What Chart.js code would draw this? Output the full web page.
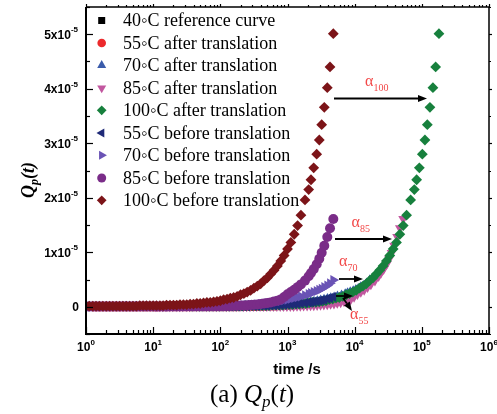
<!DOCTYPE html>
<html><head><meta charset="utf-8">
<script src="https://cdn.jsdelivr.net/npm/chart.js@4.4.0/dist/chart.umd.min.js"></script>
<style>html,body{margin:0;padding:0;background:#fff;}canvas{display:block;}</style>
</head><body>
<canvas id="c" width="497" height="414"></canvas>
<script>
// measurement times (s), before translation
const times = [1,1.12,1.26,1.41,1.58,1.78,2,2.24,2.51,2.82,3.16,3.55,3.98,4.47,5.01,5.62,6.31,7.08,7.94,8.91,
 10,11.2,12.6,14.1,15.8,17.8,20,22.4,25.1,28.2,31.6,35.5,39.8,44.7,50.1,56.2,63.1,70.8,79.4,89.1,
 100,112,126,141,158,178,200,224,251,282,316,355,398,447,501,562,631,708,794,891,
 1000,1122,1259,1413,1585,1822,2067,2238,2455,2720,2974,3228,3530,3912,4293,4808];
// Qp(t) values, in units of 1e-5
const q40 = [0.002,0.002,0.002,0.002,0.002,0.002,0.002,0.002,0.002,0.002,0.002,0.002,0.002,0.002,0.002,0.002,0.002,0.002,0.002,0.002,
 0.003,0.003,0.003,0.003,0.003,0.003,0.003,0.003,0.003,0.003,0.003,0.003,0.003,0.003,0.003,0.003,0.003,0.003,0.003,0.003,
 0.004,0.004,0.005,0.005,0.005,0.006,0.006,0.007,0.008,0.008,0.009,0.010,0.011,0.013,0.014,0.016,0.018,0.020,0.022,0.025,
 0.027,0.030,0.034,0.038,0.042,0.047,0.053,0.057,0.062,0.068,0.074,0.080,0.088,0.097,0.106,0.12];
const q55 = [0.003,0.003,0.003,0.003,0.003,0.003,0.003,0.003,0.003,0.003,0.003,0.003,0.003,0.003,0.003,0.003,0.003,0.003,0.003,0.003,
 0.004,0.004,0.004,0.004,0.004,0.004,0.004,0.004,0.004,0.004,0.005,0.005,0.005,0.005,0.005,0.005,0.005,0.005,0.005,0.005,
 0.006,0.006,0.007,0.007,0.008,0.008,0.009,0.010,0.011,0.012,0.013,0.015,0.017,0.019,0.021,0.024,0.027,0.030,0.033,0.037,
 0.041,0.046,0.051,0.057,0.063,0.07,0.08,0.085,0.09,0.10,0.11,0.12,0.13,0.145,0.16,0.18];
const q70 = [0.004,0.004,0.004,0.004,0.004,0.004,0.004,0.004,0.004,0.004,0.004,0.004,0.004,0.004,0.004,0.004,0.004,0.004,0.004,0.004,
 0.005,0.005,0.005,0.005,0.005,0.006,0.006,0.006,0.006,0.007,0.007,0.007,0.008,0.008,0.009,0.009,0.010,0.011,0.012,0.013,
 0.014,0.015,0.017,0.019,0.021,0.023,0.025,0.027,0.03,0.035,0.04,0.045,0.05,0.057,0.065,0.075,0.085,0.095,0.105,0.12,
 0.13,0.145,0.16,0.175,0.19,0.21,0.235,0.25,0.27,0.29,0.31,0.33,0.36,0.39,0.43,0.49];
const q85 = [0.005,0.005,0.005,0.005,0.005,0.005,0.005,0.005,0.005,0.005,0.005,0.005,0.005,0.005,0.005,0.005,0.005,0.005,0.005,0.005,
 0.006,0.006,0.006,0.006,0.006,0.007,0.007,0.007,0.007,0.008,0.008,0.008,0.008,0.009,0.009,0.009,0.010,0.010,0.010,0.011,
 0.011,0.012,0.013,0.015,0.017,0.019,0.022,0.025,0.028,0.032,0.037,0.043,0.05,0.058,0.068,0.08,0.095,0.11,0.135,0.18,
 0.23,0.27,0.31,0.36,0.41,0.48,0.56,0.62,0.69,0.78,0.88,0.99,1.12,1.28,1.44,1.61];
const q100 = [0.01,0.01,0.01,0.01,0.01,0.01,0.01,0.01,0.01,0.01,0.01,0.01,0.01,0.01,0.01,0.01,0.02,0.02,0.02,0.02,
 0.02,0.02,0.02,0.02,0.03,0.03,0.03,0.03,0.04,0.04,0.04,0.05,0.05,0.06,0.06,0.07,0.08,0.08,0.09,0.10,
 0.11,0.13,0.14,0.16,0.17,0.19,0.22,0.24,0.27,0.30,0.34,0.38,0.42,0.48,0.53,0.60,0.67,0.75,0.84,0.94,
 1.06,1.18,1.33,1.49,1.68,1.96,2.15,2.33,2.55,2.80,3.06,3.34,3.66,4.02,4.40,5.01];
// shift factors (translation to 40 °C reference)
const shift55 = 1.3, shift70 = 3.5, shift85 = 11, shift100 = 37.4;
const xTickExps = [0,1,2,3,4,5,6];
const yTickVals = [0,1,2,3,4,5];
const legendLabels = ['40\u25E6C reference curve','55\u25E6C after translation','70\u25E6C after translation','85\u25E6C after translation','100\u25E6C after translation','55\u25E6C before translation','70\u25E6C before translation','85\u25E6C before translation','100\u25E6C before translation'];

function pts(qs, f){ return times.map((t,i)=>({x:t*f, y:qs[i]*1e-5})); }

// legend order
const series = [
 {label:legendLabels[0], data:pts(q40,1), color:'#000000', style:'rect', r:5.5, rot:0},
 {label:legendLabels[1], data:pts(q55,shift55), color:'#ec2a2c', style:'circle', r:4.8, rot:0},
 {label:legendLabels[2], data:pts(q70,shift70), color:'#3b5cab', style:'triangle', r:5.8, rot:0},
 {label:legendLabels[3], data:pts(q85,shift85), color:'#c2579f', style:'triangle', r:5.8, rot:180},
 {label:legendLabels[4], data:pts(q100,shift100), color:'#17803d', style:'rectRot', r:5.4, rot:0},
 {label:legendLabels[5], data:pts(q55,1), color:'#1f2a78', style:'triangle', r:5.8, rot:270},
 {label:legendLabels[6], data:pts(q70,1), color:'#6a53b5', style:'triangle', r:5.8, rot:90},
 {label:legendLabels[7], data:pts(q85,1), color:'#7a2c88', style:'circle', r:5, rot:0},
 {label:legendLabels[8], data:pts(q100,1), color:'#7c1418', style:'rectRot', r:5.4, rot:0}
];

function drawMarker(ctx, s, x, y){
  const r = s.r*0.9, rad = s.rot*Math.PI/180;
  ctx.fillStyle = s.color;
  ctx.beginPath();
  if (s.style==='circle'){ ctx.arc(x,y,r,0,Math.PI*2); }
  else if (s.style==='rect'){ const h=Math.SQRT1_2*r; ctx.rect(x-h,y-h,2*h,2*h); }
  else if (s.style==='rectRot'){ ctx.moveTo(x,y-r); ctx.lineTo(x+r,y); ctx.lineTo(x,y+r); ctx.lineTo(x-r,y); ctx.closePath(); }
  else if (s.style==='triangle'){
    let a=rad; ctx.moveTo(x+Math.sin(a)*r, y-Math.cos(a)*r);
    a+=2*Math.PI/3; ctx.lineTo(x+Math.sin(a)*r, y-Math.cos(a)*r);
    a+=2*Math.PI/3; ctx.lineTo(x+Math.sin(a)*r, y-Math.cos(a)*r);
    ctx.closePath();
  }
  ctx.fill();
}

function arrow(ctx,x1,y1,x2,y2){
  ctx.strokeStyle='#000'; ctx.fillStyle='#000'; ctx.lineWidth=1.8;
  const ang=Math.atan2(y2-y1,x2-x1), L=9, W=3.5;
  const bx=x2-Math.cos(ang)*L, by=y2-Math.sin(ang)*L;
  ctx.beginPath(); ctx.moveTo(x1,y1); ctx.lineTo(bx,by); ctx.stroke();
  ctx.beginPath(); ctx.moveTo(x2,y2);
  ctx.lineTo(bx+Math.sin(ang)*W, by-Math.cos(ang)*W);
  ctx.lineTo(bx-Math.sin(ang)*W, by+Math.cos(ang)*W);
  ctx.closePath(); ctx.fill();
}
function alphaLabel(ctx,x,y,sub){
  ctx.fillStyle='#f24848'; ctx.textAlign='left'; ctx.textBaseline='alphabetic';
  ctx.font='16px "Liberation Serif","DejaVu Serif",serif';
  ctx.fillText('\u03B1',x,y);
  const w=ctx.measureText('\u03B1').width;
  ctx.font='10px "Liberation Serif","DejaVu Serif",serif';
  ctx.fillText(sub,x+w,y+5);
}

const SANS='"Liberation Sans",Arial,sans-serif';
const SERIF='"Liberation Serif","Times New Roman",serif';

const decor = {
  id:'decor',
  afterDatasetsDraw(chart){
    const {ctx, chartArea:a, scales:{x,y}} = chart;
    ctx.save();
    // frame
    ctx.strokeStyle='#000'; ctx.lineWidth=1.5;
    ctx.beginPath(); ctx.moveTo(a.left,a.top); ctx.lineTo(a.right,a.top); ctx.lineTo(a.right,a.bottom); ctx.stroke();
    ctx.lineWidth=2;
    ctx.beginPath(); ctx.moveTo(a.left,a.top); ctx.lineTo(a.left,a.bottom); ctx.lineTo(a.right,a.bottom); ctx.stroke();
    // x ticks
    ctx.lineWidth=1.2;
    for (const e of xTickExps){
      for (let m=1;m<=9;m++){
        if (e===6 && m>1) break;
        const px=Math.round(x.getPixelForValue(m*Math.pow(10,e)))+0.5;
        const maj=(m===1);
        ctx.beginPath(); ctx.moveTo(px,a.bottom); ctx.lineTo(px,a.bottom-(maj?7:4)); ctx.stroke();
        ctx.beginPath(); ctx.moveTo(px,a.top); ctx.lineTo(px,a.top-(maj?3:2)); ctx.stroke();
      }
    }
    // y ticks
    for (let v=-0.5; v<=5.51; v+=0.5){
      const py=Math.round(y.getPixelForValue(v*1e-5))+0.5;
      const maj=Math.abs(v-Math.round(v))<1e-6;
      ctx.beginPath(); ctx.moveTo(a.left,py); ctx.lineTo(a.left+(maj?7:4),py); ctx.stroke();
      ctx.beginPath(); ctx.moveTo(a.right,py); ctx.lineTo(a.right+(maj?3:2),py); ctx.stroke();
    }
    // x tick labels
    ctx.fillStyle='#000'; ctx.textBaseline='middle';
    for (const e of xTickExps){
      const px=x.getPixelForValue(Math.pow(10,e));
      ctx.font='bold 12px '+SANS; const wb=ctx.measureText('10').width;
      ctx.font='bold 8px '+SANS; const we=ctx.measureText(String(e)).width;
      const x0=px-(wb+we)/2;
      ctx.textAlign='left';
      ctx.font='bold 12px '+SANS; ctx.fillText('10',x0,348);
      ctx.font='bold 8px '+SANS; ctx.fillText(String(e),x0+wb,343);
    }
    // y tick labels
    for (const v of yTickVals){
      const py=y.getPixelForValue(v*1e-5);
      ctx.textAlign='right';
      if (v===0){ ctx.font='bold 12px '+SANS; ctx.fillText('0',79,py+1); continue; }
      ctx.font='bold 8px '+SANS; const we=ctx.measureText('-5').width;
      ctx.fillText('-5',78,py-4);
      ctx.font='bold 12px '+SANS; ctx.fillText(v+'x10',78-we,py+1);
    }
    // axis titles
    ctx.textAlign='center'; ctx.textBaseline='middle';
    ctx.font='bold 15px '+SANS; ctx.fillText('time /s',297,370);
    ctx.save();
    ctx.translate(34,180); ctx.rotate(-Math.PI/2);
    ctx.textBaseline='alphabetic'; ctx.textAlign='left';
    ctx.font='bold italic 18px '+SERIF; const wQ=ctx.measureText('Q').width;
    ctx.font='bold italic 12px '+SERIF; const wp=ctx.measureText('p').width;
    ctx.font='bold italic 18px '+SERIF; const wt=ctx.measureText('(t)').width;
    let sx=-(wQ+wp+wt)/2;
    ctx.font='bold italic 18px '+SERIF; ctx.fillText('Q',sx,0); sx+=wQ;
    ctx.font='bold italic 12px '+SERIF; ctx.fillText('p',sx,4); sx+=wp;
    ctx.font='bold italic 18px '+SERIF; ctx.fillText('(t)',sx,0);
    ctx.restore();
    // caption
    ctx.textAlign='left'; ctx.textBaseline='alphabetic';
    let cx=210; const cb=402;
    ctx.font='25px '+SERIF; ctx.fillText('(a) ',cx,cb); cx+=ctx.measureText('(a) ').width;
    ctx.font='italic 25px '+SERIF; ctx.fillText('Q',cx,cb); cx+=ctx.measureText('Q').width;
    ctx.font='italic 17px '+SERIF; ctx.fillText('p',cx,cb+5); cx+=ctx.measureText('p').width;
    ctx.font='25px '+SERIF; ctx.fillText('(',cx,cb); cx+=ctx.measureText('(').width;
    ctx.font='italic 25px '+SERIF; ctx.fillText('t',cx,cb); cx+=ctx.measureText('t').width;
    ctx.font='25px '+SERIF; ctx.fillText(')',cx,cb);
    // legend
    const rowY=[20.5,43,65.3,88,110.3,133,155.3,178,200.3];
    series.forEach((s,i)=>{
      drawMarker(ctx,s,101.7,rowY[i]);
      ctx.fillStyle='#000'; ctx.font='18px '+SERIF; ctx.textAlign='left'; ctx.textBaseline='middle';
      ctx.fillText(s.label,123,rowY[i]+1);
    });
    // arrows and shift labels
    arrow(ctx,334,98.5,427,98.5);
    alphaLabel(ctx,365,86,'100');
    arrow(ctx,335,239,392,239);
    alphaLabel(ctx,351.5,227,'85');
    arrow(ctx,339,279,363,279);
    alphaLabel(ctx,339,266,'70');
    arrow(ctx,336,296,353,296);
    arrow(ctx,343,298,352,311);
    alphaLabel(ctx,350,319,'55');
    ctx.restore();
  }
};

// datasets: first index is drawn on top, so reverse legend order
const datasets = series.slice().reverse().map(s=>({
  label:s.label, data:s.data, pointStyle:s.style, pointRadius:s.r, pointHoverRadius:s.r,
  pointRotation:s.rot, backgroundColor:s.color, borderColor:s.color, borderWidth:0, pointBorderWidth:0, clip:0
}));

new Chart(document.getElementById('c'),{
  type:'scatter',
  data:{datasets},
  options:{
    responsive:false, animation:false, devicePixelRatio:1,
    layout:{padding:{left:0,top:7,right:8,bottom:0}},
    plugins:{legend:{display:false},tooltip:{enabled:false}},
    events:[],
    scales:{
      x:{type:'logarithmic',min:1,max:1e6,ticks:{display:false},grid:{display:false},border:{display:false},
         afterFit(s){s.height=80;}},
      y:{type:'linear',min:-0.5e-5,max:5.5e-5,ticks:{display:false},grid:{display:false},border:{display:false},
         afterFit(s){s.width=86;}}
    }
  },
  plugins:[decor]
});
</script>
</body></html>
